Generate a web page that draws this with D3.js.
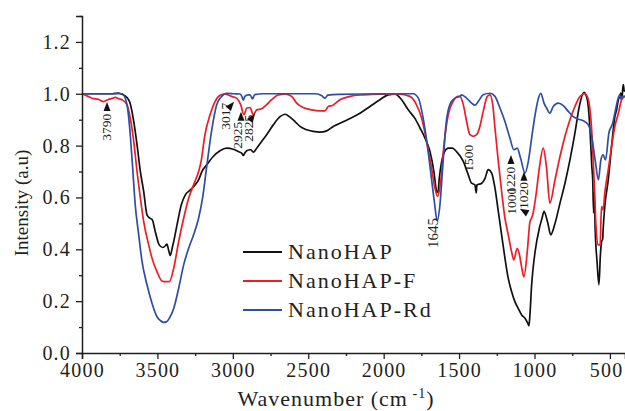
<!DOCTYPE html>
<html lang="en">
<head>
<meta charset="UTF-8">
<title>FTIR spectra</title>
<script src="https://d3js.org/d3.v7.min.js"></script>
<style>
  body { margin: 0; background: #fff; }
  svg text { font-family: "Liberation Serif", "Times New Roman", serif; fill: #231f20; }
</style>
</head>
<body>
<div id="chart"></div>
<script>
// --- data (wavenumber cm-1, intensity a.u.) ---
var nanoHap = [[4000,1.0],[3900,1.0],[3800,1.0],[3760,1.003],[3735,0.998],[3700,0.985],[3682,0.965],[3657,0.893],[3635,0.803],[3613,0.70],[3591,0.623],[3569,0.533],[3550,0.52],[3535,0.515],[3514,0.468],[3488,0.417],[3465,0.407],[3445,0.415],[3437,0.42],[3425,0.395],[3415,0.376],[3400,0.41],[3392,0.43],[3370,0.494],[3342,0.571],[3315,0.61],[3282,0.629],[3249,0.649],[3227,0.668],[3205,0.70],[3173,0.726],[3130,0.758],[3085,0.78],[3041,0.79],[2997,0.786],[2964,0.777],[2940,0.770],[2931,0.762],[2920,0.772],[2908,0.78],[2882,0.784],[2864,0.775],[2842,0.79],[2809,0.816],[2776,0.842],[2732,0.88],[2687,0.912],[2654,0.921],[2621,0.91],[2588,0.893],[2555,0.874],[2510,0.861],[2467,0.855],[2422,0.852],[2378,0.857],[2334,0.874],[2290,0.886],[2223,0.905],[2157,0.925],[2091,0.951],[2025,0.977],[1970,0.996],[1925,0.999],[1881,0.977],[1837,0.938],[1793,0.905],[1759,0.868],[1726,0.829],[1693,0.777],[1667,0.70],[1649,0.625],[1640,0.62],[1631,0.676],[1615,0.74],[1605,0.764],[1572,0.79],[1545,0.79],[1517,0.777],[1472,0.739],[1439,0.687],[1417,0.655],[1395,0.649],[1390,0.63],[1386,0.618],[1382,0.648],[1350,0.655],[1328,0.674],[1307,0.707],[1284,0.694],[1262,0.636],[1240,0.546],[1218,0.456],[1196,0.366],[1174,0.288],[1152,0.237],[1130,0.198],[1108,0.172],[1085,0.147],[1063,0.134],[1045,0.115],[1037,0.105],[1030,0.15],[1019,0.263],[996,0.391],[968,0.481],[950,0.52],[937,0.546],[920,0.52],[909,0.494],[893,0.456],[864,0.50],[831,0.578],[798,0.655],[765,0.745],[732,0.848],[703,0.951],[672,1.005],[650,0.977],[632,0.861],[620,0.72],[614,0.668],[608,0.54],[604,0.62],[598,0.48],[585,0.35],[573,0.263],[563,0.38],[555,0.43],[548,0.44],[545,0.475],[534,0.565],[511,0.668],[489,0.797],[467,0.912],[455,0.94],[444,0.977],[435,0.99],[428,1.003],[420,0.98],[415,1.02],[411,1.035],[405,1.01],[400,1.015]];

var nanoHapF = [[4000,1.0],[3960,0.99],[3934,0.983],[3890,0.978],[3856,0.97],[3830,0.977],[3800,0.982],[3779,0.986],[3760,0.982],[3735,0.977],[3702,0.958],[3680,0.906],[3657,0.816],[3635,0.70],[3613,0.597],[3591,0.507],[3558,0.417],[3536,0.366],[3503,0.314],[3470,0.278],[3445,0.275],[3421,0.275],[3392,0.327],[3359,0.43],[3326,0.52],[3293,0.597],[3260,0.649],[3227,0.70],[3210,0.74],[3185,0.842],[3151,0.919],[3118,0.97],[3085,0.994],[3052,0.999],[3008,0.99],[2975,0.983],[2948,0.958],[2926,0.919],[2908,0.945],[2886,0.947],[2864,0.919],[2842,0.938],[2809,0.942],[2776,0.958],[2743,0.977],[2698,0.996],[2654,0.999],[2610,0.99],[2577,0.964],[2533,0.947],[2477,0.938],[2422,0.934],[2389,0.934],[2367,0.951],[2340,0.955],[2290,0.977],[2223,0.99],[2135,0.996],[2025,0.999],[1900,0.999],[1826,0.99],[1788,0.964],[1748,0.905],[1715,0.816],[1682,0.713],[1660,0.636],[1642,0.604],[1622,0.662],[1600,0.803],[1572,0.919],[1539,0.971],[1505,0.99],[1494,0.99],[1472,0.958],[1450,0.893],[1428,0.842],[1406,0.836],[1384,0.842],[1362,0.874],[1340,0.932],[1313,0.99],[1295,0.996],[1277,0.958],[1262,0.868],[1240,0.739],[1218,0.623],[1196,0.52],[1174,0.456],[1152,0.391],[1137,0.359],[1115,0.404],[1100,0.38],[1085,0.33],[1070,0.294],[1048,0.391],[1030,0.507],[1020,0.52],[1012,0.533],[990,0.61],[968,0.713],[942,0.79],[920,0.713],[898,0.578],[864,0.668],[831,0.758],[798,0.836],[765,0.90],[732,0.951],[698,0.99],[665,1.0],[643,0.977],[621,0.861],[605,0.668],[592,0.488],[580,0.417],[565,0.417],[556,0.565],[545,0.552],[534,0.617],[511,0.707],[489,0.797],[467,0.874],[444,0.925],[422,0.977],[400,0.99]];

var nanoHapRd = [[4000,1.0],[3900,1.0],[3800,1.0],[3735,1.0],[3713,0.983],[3695,0.932],[3680,0.842],[3664,0.713],[3647,0.571],[3624,0.456],[3602,0.353],[3569,0.263],[3536,0.192],[3503,0.14],[3480,0.125],[3459,0.118],[3440,0.12],[3421,0.134],[3392,0.172],[3359,0.25],[3326,0.34],[3293,0.404],[3260,0.456],[3227,0.52],[3200,0.60],[3173,0.72],[3140,0.86],[3107,0.958],[3074,0.99],[3041,1.002],[2990,1.0],[2953,0.999],[2940,0.99],[2931,0.975],[2920,0.99],[2900,0.996],[2886,0.996],[2869,0.98],[2855,0.997],[2800,1.0],[2700,1.0],[2600,1.0],[2450,1.0],[2410,0.992],[2389,0.983],[2370,0.995],[2300,0.998],[2000,1.0],[1850,1.0],[1804,1.0],[1770,0.983],[1738,0.905],[1711,0.803],[1686,0.687],[1664,0.584],[1645,0.51],[1627,0.571],[1609,0.713],[1587,0.88],[1561,0.958],[1527,0.983],[1494,0.99],[1484,0.996],[1450,0.983],[1417,0.964],[1395,0.956],[1373,0.97],[1340,0.996],[1295,1.002],[1262,0.99],[1229,0.945],[1196,0.893],[1163,0.829],[1137,0.784],[1115,0.79],[1092,0.751],[1063,0.694],[1041,0.739],[1019,0.829],[996,0.919],[974,0.983],[958,1.002],[937,0.964],[920,0.945],[898,0.925],[876,0.951],[842,0.964],[809,0.954],[776,0.932],[743,0.912],[710,0.902],[676,0.896],[643,0.88],[621,0.836],[598,0.745],[576,0.668],[560,0.745],[545,0.764],[529,0.745],[507,0.848],[482,0.886],[463,0.938],[436,0.996],[428,0.98],[420,0.99],[400,0.99]];

var seriesNames = ["NanoHAP", "NanoHAP-F", "NanoHAP-Rd"];
var seriesColors = ["#111111", "#ee1c25", "#2e4ea6"];

var xTicks = [4000, 3500, 3000, 2500, 2000, 1500, 1000, 500];
var xMinorTicks = [3750, 3250, 2750, 2250, 1750, 1250, 750];
var yTicks = [0, 0.2, 0.4, 0.6, 0.8, 1.0, 1.2];
var yMinorTicks = [0.1, 0.3, 0.5, 0.7, 0.9, 1.1, 1.3];

// peak labels: label, text anchor (wn, value), arrow tip (wn, value), arrow angle (deg, 0 = up)
var peakLabels = ["3790", "3017", "2925", "2825", "1645", "1500", "1220", "1000", "1020"];
var peakTextPos = [[3838,0.923],[3052,0.965],[2973,0.892],[2900,0.919],[1673,0.521],[1441,0.803],[1163,0.718],[1156,0.637],[1077,0.66]];
var peakArrows = [[3834,0.968,0],[2992,0.969,40],[2946,0.931,0],[2853,0.923,35],null,null,[1156,0.764,0],[1097,0.556,-60],[1070,0.699,0]];

// --- layout ---
var W = 625, H = 411;
var x = d3.scaleLinear().domain([4000, 400]).range([82, 625]);
var y = d3.scaleLinear().domain([0, 1.3]).range([353, 16]);

var svg = d3.select("#chart").append("svg")
    .attr("width", W)
    .attr("height", H);

// spectra
var line = d3.line()
    .x(function(d) { return x(d[0]); })
    .y(function(d) { return y(d[1]); })
    .curve(d3.curveMonotoneX);

[nanoHap, nanoHapF, nanoHapRd].forEach(function(s, i) {
  svg.append("path")
    .datum(s)
    .attr("fill", "none")
    .attr("stroke", seriesColors[i])
    .attr("stroke-width", 1.7)
    .attr("stroke-linejoin", "round")
    .attr("d", line);
});

// axes
svg.append("g")
    .attr("transform", "translate(0," + y(0) + ")")
    .call(d3.axisBottom(x).tickValues(xTicks).tickSize(6).tickPadding(4).tickFormat(d3.format("d")));
svg.append("g")
    .attr("transform", "translate(0," + y(0) + ")")
    .call(d3.axisBottom(x).tickValues(xMinorTicks).tickSize(3).tickFormat(""))
    .select(".domain").remove();

svg.append("g")
    .attr("transform", "translate(" + x(4000) + ",0)")
    .call(d3.axisLeft(y).tickValues(yTicks).tickSize(6).tickPadding(5).tickFormat(d3.format(".1f")));
svg.append("g")
    .attr("transform", "translate(" + x(4000) + ",0)")
    .call(d3.axisLeft(y).tickValues(yMinorTicks).tickSize(3).tickFormat(""))
    .select(".domain").remove();

svg.selectAll(".domain").attr("stroke", "#231f20").attr("stroke-width", 1.5);
svg.selectAll(".tick line").attr("stroke", "#231f20").attr("stroke-width", 1.3);
svg.selectAll(".tick text")
    .style("font-family", "Liberation Serif, serif")
    .style("font-size", "20px")
    .style("letter-spacing", "1.2px")
    .attr("fill", "#231f20");
// last x label sits against the right edge
svg.selectAll(".tick text").filter(function(d) { return d === 500; })
    .attr("text-anchor", "end")
    .attr("dx", "0.65em");

// axis titles
var xt = svg.append("text")
    .attr("x", 336)
    .attr("y", 406)
    .attr("text-anchor", "middle")
    .style("font-size", "22px")
    .style("letter-spacing", "1px");
xt.append("tspan").text("Wavenumber (cm");
xt.append("tspan").attr("dy", -8).style("font-size", "14px").text(" -1");
xt.append("tspan").attr("dy", 8).text(")");

svg.append("text")
    .attr("transform", "translate(28,203) rotate(-90)")
    .attr("text-anchor", "middle")
    .style("font-size", "19px")
    .text("Intensity  (a.u)");

// legend
var legend = svg.append("g");
seriesNames.forEach(function(n, i) {
  var ly = 252 + i * 29;
  legend.append("line")
    .attr("x1", 243).attr("x2", 282)
    .attr("y1", ly).attr("y2", ly)
    .attr("stroke", seriesColors[i])
    .attr("stroke-width", 2);
  legend.append("text")
    .attr("x", 288)
    .attr("y", ly + 7)
    .style("font-size", "22px")
    .style("letter-spacing", "2px")
    .text(n);
});

// peak annotations
var ann = svg.append("g");
peakLabels.forEach(function(lbl, i) {
  var tp = peakTextPos[i];
  ann.append("text")
    .attr("transform", "translate(" + x(tp[0]) + "," + y(tp[1]) + ") rotate(-90)")
    .attr("text-anchor", "end")
    .attr("dy", "0.35em")
    .style("font-size", i == 4 ? "15px" : "13.5px")
    .text(lbl);
  var a = peakArrows[i];
  if (a) {
    ann.append("path")
      .attr("d", "M0,0 L-3.5,9 L3.5,9 Z")
      .attr("transform", "translate(" + x(a[0]) + "," + y(a[1]) + ") rotate(" + a[2] + ")")
      .attr("fill", "#111");
  }
});
</script>
</body>
</html>
